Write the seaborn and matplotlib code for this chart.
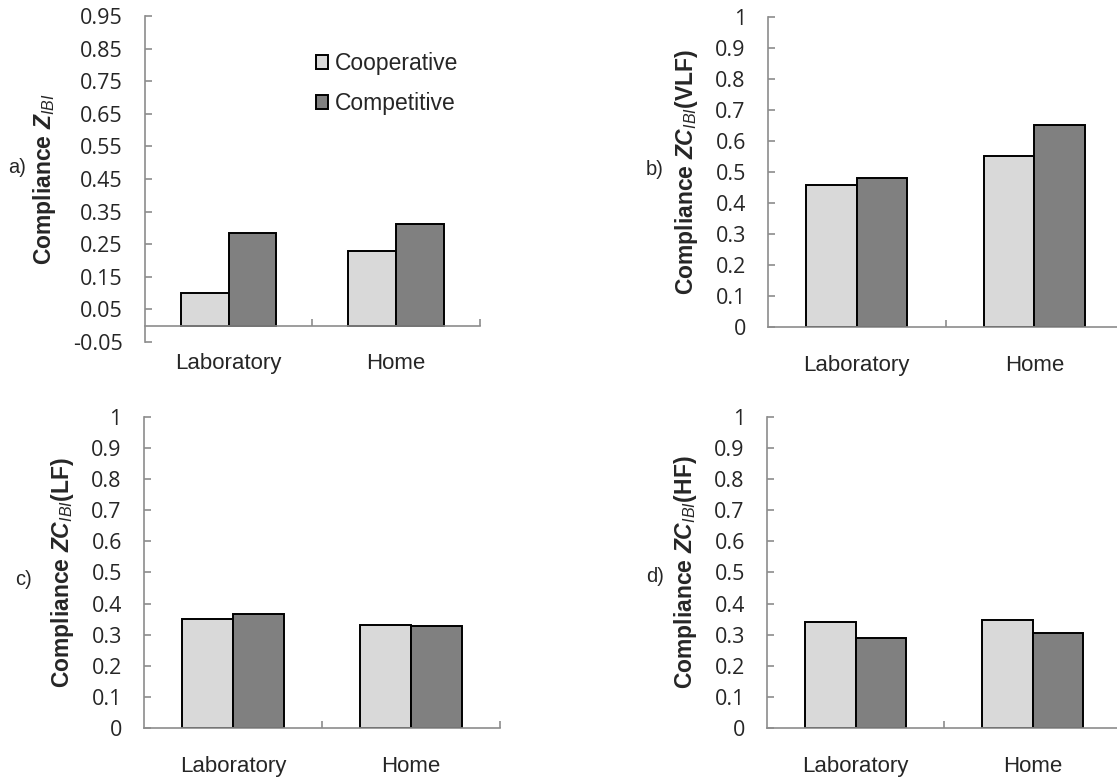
import numpy as np
import pandas as pd
import matplotlib
matplotlib.use("Agg")
import matplotlib.pyplot as plt
import seaborn as sns

# ─── Data ────────────────────────────────────────────────────────────────────
SETTINGS = ["Laboratory", "Home"]
CONDITIONS = ["Cooperative", "Competitive"]

z_ibi_coop = [0.101, 0.228]
z_ibi_comp = [0.285, 0.311]
vlf_coop = [0.458, 0.553]
vlf_comp = [0.482, 0.652]
lf_coop = [0.349, 0.330]
lf_comp = [0.366, 0.327]
hf_coop = [0.342, 0.348]
hf_comp = [0.290, 0.304]

PALETTE = {"Cooperative": "#d9d9d9", "Competitive": "#808080"}
AXIS_GREY = "#8c8c8c"

sns.set_style("white")
plt.rcParams.update({
    "font.family": ["Liberation Sans", "DejaVu Sans"],
    "mathtext.fontset": "custom",
    "mathtext.rm": "Liberation Sans",
    "mathtext.it": "Liberation Sans:italic",
    "mathtext.bf": "Liberation Sans:bold",
    "mathtext.bfit": "Liberation Sans:italic:bold",
})


def long_frame(coop, comp):
    return pd.DataFrame({
        "setting": SETTINGS * 2,
        "condition": [c for c in CONDITIONS for _ in SETTINGS],
        "value": list(coop) + list(comp),
    })


def draw_panel(ax, coop, comp, ylim, yticks, ylabels, ylabel, legend=False):
    sns.barplot(
        data=long_frame(coop, comp), x="setting", y="value",
        hue="condition", order=SETTINGS, hue_order=CONDITIONS,
        palette=PALETTE, saturation=1, width=0.57,
        edgecolor="black", linewidth=1.4, errorbar=None,
        legend=legend, ax=ax,
    )
    ax.set_xlim(-0.5, 1.5)
    ax.set_ylim(*ylim)

    for side in ("top", "right"):
        ax.spines[side].set_visible(False)
    for side in ("left", "bottom"):
        ax.spines[side].set_color(AXIS_GREY)
        ax.spines[side].set_linewidth(1.2)
    ax.spines["bottom"].set_position(("data", 0))

    ax.set_yticks(yticks, ylabels, fontfamily="Open Sans", fontsize=15.5)
    ax.tick_params(axis="y", left=True, direction="in", length=5, width=1.2,
                   color=AXIS_GREY, pad=16)
    ax.set_xticks([0, 1], SETTINGS, fontsize=16)
    ax.set_xticks([0.5, 1.5], minor=True)
    ax.tick_params(axis="x", which="major", bottom=True, length=0, pad=20)
    ax.tick_params(axis="x", which="minor", bottom=True, direction="in",
                   length=5, width=1.2, color=AXIS_GREY)

    ax.set_xlabel("")
    ax.set_ylabel(ylabel, fontsize=16.5, fontweight="bold", labelpad=11)

    if legend:
        ax.legend(loc="upper left", bbox_to_anchor=(0.51, 0.89),
                  frameon=False, fontsize=16.5, handlelength=0.55,
                  handleheight=0.55, handletextpad=0.3, labelspacing=0.75,
                  borderpad=0, borderaxespad=0)


fig = plt.figure(figsize=(11.17, 7.78), dpi=100)
ax_a = fig.add_axes([0.1298, 0.5604, 0.2999, 0.4190])
ax_b = fig.add_axes([0.6876, 0.5797, 0.3178, 0.3985])
ax_c = fig.add_axes([0.1289, 0.0643, 0.3187, 0.3997])
ax_d = fig.add_axes([0.6867, 0.0643, 0.3169, 0.3997])

ticks_a = np.round(np.arange(-0.05, 0.951, 0.1), 2)
ticks_b = np.round(np.arange(0, 1.01, 0.1), 1)
labels_a = [f"{t:.2f}" for t in ticks_a]
labels_b = [f"{t:g}" for t in ticks_b]

draw_panel(ax_a, z_ibi_coop, z_ibi_comp, (-0.05, 0.95), ticks_a, labels_a,
           r"Compliance $\mathbfit{Z}_{\mathit{IBI}}$", legend=True)
draw_panel(ax_b, vlf_coop, vlf_comp, (0, 1), ticks_b, labels_b,
           r"Compliance $\mathbfit{ZC}_{\mathit{IBI}}\mathbf{(VLF)}$")
draw_panel(ax_c, lf_coop, lf_comp, (0, 1), ticks_b, labels_b,
           r"Compliance $\mathbfit{ZC}_{\mathit{IBI}}\mathbf{(LF)}$")
draw_panel(ax_d, hf_coop, hf_comp, (0, 1), ticks_b, labels_b,
           r"Compliance $\mathbfit{ZC}_{\mathit{IBI}}\mathbf{(HF)}$")

# panel letters
for txt, x, y in [("a)", 0.0152, 0.785), ("b)", 0.5864, 0.7815),
                  ("c)", 0.0206, 0.2545), ("d)", 0.5864, 0.2584)]:
    fig.text(x, y, txt, ha="center", va="center", fontsize=14.5)

fig.savefig("out.png", dpi=100)
